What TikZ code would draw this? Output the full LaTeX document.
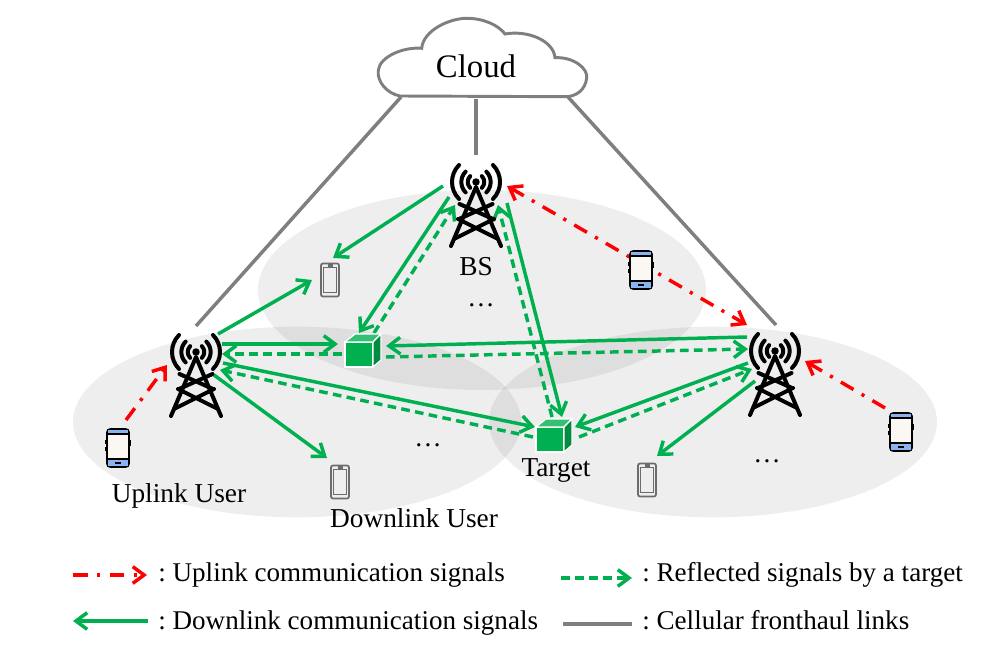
\documentclass[tikz,border=0pt]{standalone}
\usepackage{fontspec}
\setmainfont{Liberation Serif}
\usetikzlibrary{arrows.meta,calc}
\definecolor{sig}{HTML}{00B050}
\definecolor{link}{HTML}{7F7F7F}
\definecolor{phblue}{HTML}{8AB4F0}
\definecolor{phscr}{HTML}{FBF7F2}
\definecolor{cubetop}{HTML}{33C073}
\definecolor{cubeside}{HTML}{008C40}
\tikzset{
  x=0.75pt,y=-0.75pt,
  >={Straight Barb[length=8.5pt,width=12.5pt,line width=2.6pt]},
  zone/.style={fill=black,fill opacity=0.065,draw=none},
  front/.style={draw=link,line width=2.6pt},
  dl/.style={draw=sig,line width=2.6pt,->},
  refl/.style={draw=sig,line width=2.6pt,->,dash pattern=on 6.5pt off 4pt},
  ul/.style={draw=red,line width=2.6pt,->,dash pattern=on 11pt off 7pt on 2.4pt off 7pt},
  anchorpt/.style={inner sep=0pt,minimum size=0pt,outer sep=0pt},
  lab/.style={font=\fontsize{20.5pt}{22pt}\selectfont,inner sep=0pt},
  leg/.style={font=\fontsize{20.3pt}{22pt}\selectfont,inner sep=0pt,anchor=base west},
  tower/.pic={
    \begin{scope}[line width=3pt,black,line cap=round,line join=round]
      \draw (-25,64) -- (0,5) -- (25,64);
      \draw (-16.5,22) -- (17,37) (16.5,22) -- (-17,37);
      \draw (-18,37) -- (22,57) (18,37) -- (-22,57);
      \foreach \r in {6.2pt,11pt,18pt}{
        \draw (135:\r) arc[start angle=135,end angle=225,radius=\r];
        \draw (45:\r) arc[start angle=45,end angle=-45,radius=\r];
      }
      \fill (0,0) circle[radius=2.8pt];
    \end{scope}
  },
  colorphone/.pic={
    \draw[black,line width=1.3pt,fill=phscr,rounded corners=2.5pt] (-11,-19) rectangle (11,19);
    \fill[phblue] (-10.3,-18.3) -- (10.3,-18.3) -- (10.3,-14) -- (-10.3,-14) -- cycle;
    \fill[phblue] (-10.3,11) -- (10.3,11) -- (10.3,18.3) -- (-10.3,18.3) -- cycle;
    \draw[black,line width=0.8pt] (-10.5,11) -- (10.5,11) (-10.5,-14) -- (10.5,-14);
    \draw[black,line width=1.2pt] (-3,15) -- (3,15);
    \draw[black,line width=1.4pt] (12,-8) -- (12,-2) (-12,-8) -- (-12,-4) (-12,-1) -- (-12,3);
  },
  grayphone/.pic={
    \draw[link!85!black,line width=1.3pt,rounded corners=1.5pt] (-9,-16.5) rectangle (9,16.5);
    \draw[link!85!black,line width=1pt] (-6.5,-12.5) rectangle (6.5,12.5);
    \fill[link!85!black] (-2.5,-16) rectangle (2.5,-13);
  },
  cube/.pic={
    \filldraw[draw=white,line width=0.9pt,fill=sig] (-14,-12) rectangle (14,13);
    \filldraw[draw=white,line width=0.9pt,fill=cubetop] (-14,-12) -- (-4,-20) -- (22,-20) -- (14,-12) -- cycle;
    \filldraw[draw=white,line width=0.9pt,fill=cubeside] (14,-12) -- (22,-20) -- (22,6) -- (14,13) -- cycle;
  }
}
\begin{document}
\begin{tikzpicture}
\useasboundingbox (0,0) rectangle (998,656);
% coverage zones
\fill[zone] (482,290) ellipse [x radius=168pt,y radius=75pt];
\fill[zone] (297,422) ellipse [x radius=168pt,y radius=71.5pt];
\fill[zone] (713,422) ellipse [x radius=168pt,y radius=71.5pt];
% anchors
\node[anchorpt] (bs) at (476,182) {};
\node[anchorpt] (tl) at (196,352) {};
\node[anchorpt] (tr) at (775,351) {};
\node[anchorpt] (cubeA) at (359,354) {};
\node[anchorpt] (cubeB) at (550,439) {};
\node[anchorpt] (upL) at (118,448) {};
\node[anchorpt] (upM) at (641,270) {};
\node[anchorpt] (upR) at (901,432) {};
\node[anchorpt] (dnT) at (330,280) {};
\node[anchorpt] (dnL) at (340,482) {};
\node[anchorpt] (dnR) at (647,480) {};
% cloud
\draw[link,line width=2.2pt,fill=white] (400,96)
  .. controls (386.7,93.3) and (376.7,81.7) .. (378.3,70)
  .. controls (380,56.7) and (403.3,46.7) .. (421.7,48.3)
  .. controls (423.3,30) and (450,18.3) .. (466.7,18.3)
  .. controls (483.3,18.3) and (498.3,25) .. (505,34)
  .. controls (526.7,30) and (553.3,40) .. (555,57.7)
  .. controls (573.3,56.7) and (588.3,68.3) .. (586.7,78.3)
  .. controls (585,90) and (576.7,96) .. (566.7,96.7)
  -- cycle;
\node[inner sep=0pt,font=\fontsize{24.6pt}{26pt}\selectfont] (cloud) at (476,66) {Cloud};
% fronthaul
\draw[front] ($(cloud)+(-75,31)$) -- ($(tl)+(0,-26)$);
\draw[front] ($(cloud)+(0,33)$) -- ($(bs)+(0,-27)$);
\draw[front] ($(cloud)+(92,31)$) -- ($(tr)+(1,-26)$);
% downlink and reflected signals
\draw[dl] ($(bs)+(-33,4)$) -- ($(dnT)+(3,-22)$);
\draw[dl] ($(bs)+(-27,15)$) -- ($(cubeA)+(0,-21)$);
\draw[refl] ($(cubeA)+(15,-21)$) -- ($(bs)+(-21,23)$);
\draw[dl] ($(bs)+(31,21)$) -- ($(cubeB)+(12,-22)$);
\draw[refl] ($(cubeB)+(2,-22)$) -- ($(bs)+(22,23)$);
\draw[dl] ($(tl)+(22,-18)$) -- ($(dnT)+(-18,0)$);
\draw[dl] ($(tl)+(26,-8)$) -- ($(cubeA)+(-21,-10)$);
\draw[refl] ($(cubeA)+(-17,0)$) -- ($(tl)+(26,2)$);
\draw[dl] ($(tl)+(27,11)$) -- ($(cubeB)+(-15,-12)$);
\draw[refl] ($(cubeB)+(-17,-2)$) -- ($(tl)+(24,18)$);
\draw[dl] ($(tl)+(18,23)$) -- ($(dnL)+(-13,-24)$);
\draw[dl] ($(tr)+(-28,-14)$) -- ($(cubeA)+(27,-8)$);
\draw[refl] ($(cubeA)+(27,3)$) -- ($(tr)+(-27,-2)$);
\draw[dl] ($(tr)+(-27,12)$) -- ($(cubeB)+(25,-12)$);
\draw[refl] ($(cubeB)+(29,-2)$) -- ($(tr)+(-23,18)$);
\draw[dl] ($(tr)+(-20,30)$) -- ($(dnR)+(10,-24)$);
% uplink signals
\draw[ul,<->] ($(bs)+(31,4)$) -- ($(tr)+(-28,-26)$);
\draw[ul] ($(upL)+(8,-28)$) -- ($(tl)+(-29,13)$);
\draw[ul] ($(upR)+(-16,-24)$) -- ($(tr)+(30,10)$);
% towers, devices, targets
\pic at (bs) {tower};
\pic at (tl) {tower};
\pic at (tr) {tower};
\pic at (upL) {colorphone};
\pic at (upM) {colorphone};
\pic at (upR) {colorphone};
\pic at (dnT) {grayphone};
\pic at (dnL) {grayphone};
\pic at (dnR) {grayphone};
\pic at (cubeA) {cube};
\pic at (cubeB) {cube};
% labels
\node[lab] (bsl) at (476,267) {BS};
\node[lab] (dots1) at (481,305) {\dots};
\node[lab] (dots2) at (428,445) {\dots};
\node[lab] (dots3) at (767,461) {\dots};
\node[lab] (ulab) at (179,496) {Uplink User};
\node[lab] (dlab) at (414,518) {Downlink User};
\node[lab] (tlab) at (556,470) {Target};
% legend
\coordinate (lgA1) at (73,575); \coordinate (lgA2) at (147,575);
\coordinate (lgB1) at (561,578); \coordinate (lgB2) at (632,578);
\coordinate (lgC1) at (148,621); \coordinate (lgC2) at (73,621);
\coordinate (lgD1) at (563,624); \coordinate (lgD2) at (632,624);
\draw[ul] (lgA1) -- (lgA2);
\draw[refl] (lgB1) -- (lgB2);
\draw[dl] (lgC1) -- (lgC2);
\draw[front] (lgD1) -- (lgD2);
\node[leg] (l1) at (158,581.5) {:\hspace{-1.6pt} Uplink communication signals};
\node[leg] (l2) at (642,581.5) {:\hspace{-1.6pt} Reflected signals by a target};
\node[leg] (l3) at (158,629.5) {:\hspace{-1.6pt} Downlink communication signals};
\node[leg] (l4) at (642,629.5) {:\hspace{-1.6pt} Cellular fronthaul links};
\end{tikzpicture}
\end{document}
